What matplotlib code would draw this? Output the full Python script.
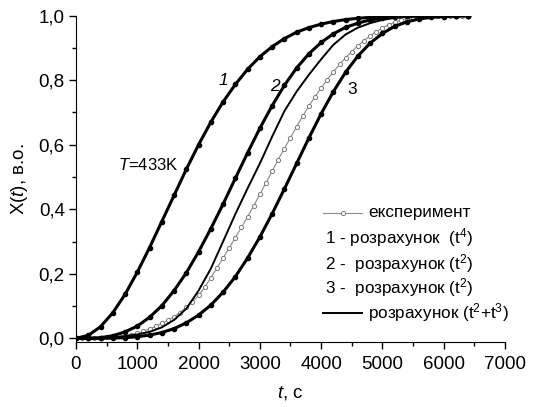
import numpy as np
import matplotlib
matplotlib.use('Agg')
import matplotlib.pyplot as plt
from matplotlib.ticker import MultipleLocator, FuncFormatter
from matplotlib.lines import Line2D

plt.rcParams['font.family'] = ['Liberation Sans', 'DejaVu Sans']
plt.rcParams['mathtext.fontset'] = 'custom'
plt.rcParams['mathtext.rm'] = 'Liberation Sans'
plt.rcParams['mathtext.it'] = 'Liberation Sans:italic'

# model curves, sampled every 200 s
t_model = [0, 200, 400, 600, 800, 1000, 1200, 1400, 1600, 1800, 2000, 2200, 2400,
           2600, 2800, 3000, 3200, 3400, 3600, 3800, 4000, 4200, 4400, 4600, 4800,
           5000, 5200, 5400, 5600, 5800, 6000, 6200, 6400]
x_calc1 = [0, 0.009, 0.036, 0.079, 0.136, 0.205, 0.281, 0.362, 0.443, 0.524, 0.600,
           0.670, 0.733, 0.787, 0.834, 0.873, 0.904, 0.929, 0.949, 0.963, 0.974,
           0.982, 0.988, 0.992, 0.995, 0.997, 0.998, 0.999, 1.0, 1.0, 1.0, 1.0, 1.0]
x_calc2 = [0, 0.0, 0.002, 0.008, 0.020, 0.038, 0.065, 0.101, 0.148, 0.203, 0.268,
           0.340, 0.416, 0.496, 0.575, 0.651, 0.721, 0.784, 0.838, 0.882, 0.917,
           0.944, 0.964, 0.977, 0.987, 0.992, 0.996, 0.998, 0.999, 1.0, 1.0, 1.0, 1.0]
x_calc3 = [0, 0.0, 0.0, 0.001, 0.002, 0.005, 0.010, 0.018, 0.030, 0.048, 0.072,
           0.103, 0.143, 0.191, 0.249, 0.314, 0.386, 0.463, 0.542, 0.621, 0.696,
           0.765, 0.825, 0.875, 0.915, 0.945, 0.967, 0.981, 0.990, 0.995, 0.997,
           0.999, 1.0]
x_calc23 = [0, 0.0, 0.001, 0.003, 0.007, 0.012, 0.020, 0.034, 0.057, 0.092, 0.148,
            0.216, 0.300, 0.385, 0.465, 0.542, 0.625, 0.704, 0.765, 0.817, 0.865,
            0.910, 0.942, 0.963, 0.977, 0.987, 0.993, 0.997, 0.999, 1.0, 1.0, 1.0, 1.0]

# experiment, every 100 s
t_exp = list(range(0, 6500, 100))
x_exp = [0, 0, 0.001, 0.001, 0.002, 0.003, 0.004, 0.006, 0.008, 0.011,
         0.016, 0.022, 0.029, 0.037, 0.046, 0.056, 0.067, 0.080, 0.096, 0.113,
         0.133, 0.158, 0.188, 0.218, 0.249, 0.280, 0.312, 0.344, 0.377, 0.411,
         0.446, 0.482, 0.518, 0.554, 0.588, 0.622, 0.656, 0.689, 0.720, 0.749,
         0.776, 0.802, 0.826, 0.849, 0.870, 0.889, 0.907, 0.923, 0.938, 0.951,
         0.962, 0.972, 0.980, 0.986, 0.991, 0.994, 0.996, 0.998, 0.999, 1.0,
         1.0, 1.0, 1.0, 1.0, 1.0]

fig = plt.figure(figsize=(5.37, 4.07), dpi=100)
ax = fig.add_axes([0.1415, 0.1604, 0.7989, 0.801])

ax.plot(t_exp, x_exp, '-', color='#8a8a8a', lw=0.8, marker='o', ms=3.0,
        mfc='white', mec='#7a7a7a', mew=0.7, zorder=3)
for xs in (x_calc1, x_calc2, x_calc3):
    ax.plot(t_model, xs, '-', color='black', lw=2.2, marker='o', ms=3.0,
            mfc='black', mec='black', zorder=4)
ax.plot(t_model, x_calc23, '-', color='black', lw=1.4, zorder=4)

ax.set_xlim(0, 7000)
ax.set_ylim(-0.0105, 1.0)
ax.spines['top'].set_visible(False)
ax.spines['right'].set_visible(False)
ax.xaxis.set_major_locator(MultipleLocator(1000))
ax.xaxis.set_minor_locator(MultipleLocator(500))
ax.yaxis.set_major_locator(MultipleLocator(0.2))
ax.yaxis.set_minor_locator(MultipleLocator(0.1))
ax.yaxis.set_major_formatter(FuncFormatter(lambda v, p: ('%.1f' % v).replace('.', ',')))
ax.tick_params(which='major', direction='out', length=5, width=1, labelsize=13.5,
               pad=3)
ax.tick_params(axis='x', which='major', pad=5)
ax.tick_params(which='minor', direction='out', length=3, width=1)

ax.set_xlabel('$t$, с', fontsize=13.5, labelpad=8)
ax.set_ylabel('X($t$), в.о.', fontsize=13.5, labelpad=6)

ax.text(2398, 0.80, '1', fontsize=12.5, style='italic', ha='center', va='center')
ax.text(3247, 0.78, '2', fontsize=12.5, style='italic', ha='center', va='center')
ax.text(4503, 0.77, '3', fontsize=12.5, ha='center', va='center')
ax.text(685, 0.537, '$T$=433K', fontsize=12, ha='left', va='center')

# legend
tr = ax.transAxes
ax.add_line(Line2D([0.576, 0.667], [0.395, 0.395], transform=tr, color='#8a8a8a', lw=0.8))
ax.add_line(Line2D([0.6215], [0.395], transform=tr, marker='o', ms=3.0, mfc='white',
                   mec='#7a7a7a', mew=0.7, lw=0))
ax.add_line(Line2D([0.576, 0.667], [0.088, 0.088], transform=tr, color='black', lw=1.4))
ax.text(0.681, 0.395, 'експеримент', transform=tr, fontsize=12.3, va='center')
ax.text(0.580, 0.318, '1 - розрахунок  (t$^4$)', transform=tr, fontsize=12.3, va='center')
ax.text(0.580, 0.241, '2 -  розрахунок (t$^2$)', transform=tr, fontsize=12.3, va='center')
ax.text(0.580, 0.165, '3 -  розрахунок (t$^2$)', transform=tr, fontsize=12.3, va='center')
ax.text(0.681, 0.088, 'розрахунок (t$^2$+t$^3$)', transform=tr, fontsize=12.3, va='center')

fig.savefig('out.png', dpi=100)
